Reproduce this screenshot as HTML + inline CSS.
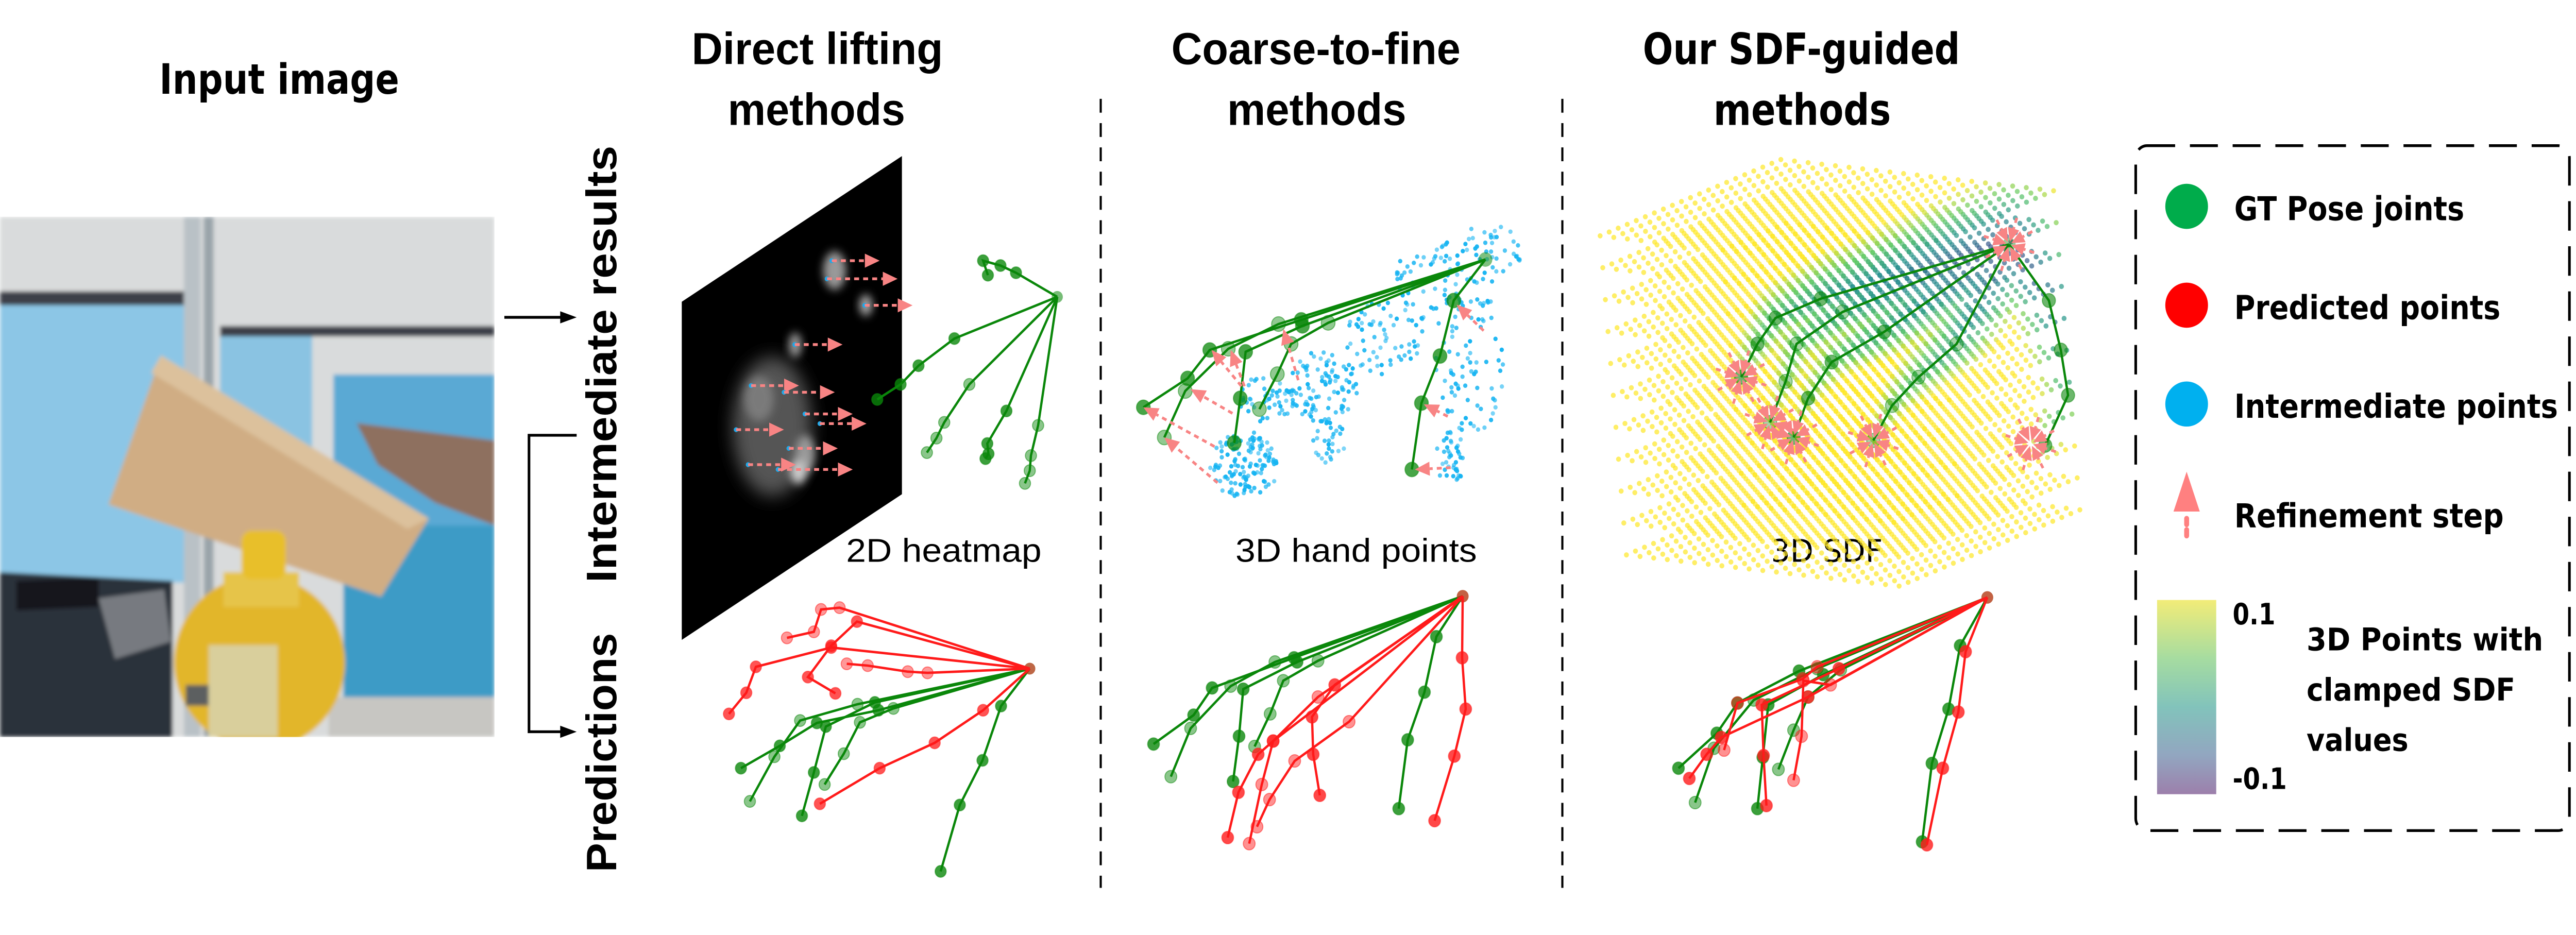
<!DOCTYPE html>
<html><head><meta charset="utf-8"><title>Hand pose methods comparison</title>
<style>html,body{margin:0;padding:0;background:#fff;overflow:hidden;}svg{display:block;width:100vw;height:100vh;}</style></head>
<body>
<svg id="fig" xmlns="http://www.w3.org/2000/svg" viewBox="0 0 1568 539.2" preserveAspectRatio="none">
<defs>
 <filter id="blur1" x="-20%" y="-20%" width="140%" height="140%"><feGaussianBlur stdDeviation="1.2"/></filter>
 <filter id="blur4" x="-50%" y="-50%" width="200%" height="200%"><feGaussianBlur stdDeviation="5"/></filter>
 <filter id="blur2" x="-50%" y="-50%" width="200%" height="200%"><feGaussianBlur stdDeviation="2.5"/></filter>
 <clipPath id="photoClip"><rect x="0" y="125" width="301" height="300"/></clipPath>
 <clipPath id="hmClip"><polygon points="415,174 549,90 549,285 415,369"/></clipPath>
 <linearGradient id="cbar" x1="0" y1="0" x2="0" y2="1">
  <stop offset="0" stop-color="#f2ec78"/><stop offset="0.3" stop-color="#a6dca0"/>
  <stop offset="0.55" stop-color="#82c3bb"/><stop offset="0.8" stop-color="#92a6c0"/>
  <stop offset="1" stop-color="#9c7fab"/></linearGradient>
</defs>

<g fill="#000">
 <text x="97" y="54" font-family="DejaVu Sans, sans-serif" font-weight="bold" font-size="24" textLength="146" lengthAdjust="spacingAndGlyphs">Input image</text>
 <text x="421" y="37" font-family="Liberation Sans, sans-serif" font-weight="bold" font-size="26" textLength="153" lengthAdjust="spacingAndGlyphs">Direct lifting</text>
 <text x="443" y="72" font-family="Liberation Sans, sans-serif" font-weight="bold" font-size="26" textLength="108" lengthAdjust="spacingAndGlyphs">methods</text>
 <text x="713" y="37" font-family="Liberation Sans, sans-serif" font-weight="bold" font-size="26" textLength="176" lengthAdjust="spacingAndGlyphs">Coarse-to-fine</text>
 <text x="747" y="72" font-family="Liberation Sans, sans-serif" font-weight="bold" font-size="26" textLength="109" lengthAdjust="spacingAndGlyphs">methods</text>
 <text x="1000" y="37" font-family="DejaVu Sans, sans-serif" font-weight="bold" font-size="25" textLength="193" lengthAdjust="spacingAndGlyphs">Our SDF-guided</text>
 <text x="1043" y="72" font-family="DejaVu Sans, sans-serif" font-weight="bold" font-size="25" textLength="108" lengthAdjust="spacingAndGlyphs">methods</text>
 <text transform="translate(375,336) rotate(-90)" font-family="Liberation Sans, sans-serif" font-weight="bold" font-size="26" textLength="252" lengthAdjust="spacingAndGlyphs">Intermediate results</text>
 <text transform="translate(375,503) rotate(-90)" font-family="Liberation Sans, sans-serif" font-weight="bold" font-size="26" textLength="138" lengthAdjust="spacingAndGlyphs">Predictions</text>
 <text x="515" y="324" font-family="Liberation Sans, sans-serif" font-size="19" textLength="119" lengthAdjust="spacingAndGlyphs">2D heatmap</text>
 <text x="752" y="324" font-family="Liberation Sans, sans-serif" font-size="19" textLength="147" lengthAdjust="spacingAndGlyphs">3D hand points</text>
 <text x="1078" y="324" font-family="DejaVu Sans, sans-serif" font-size="18" textLength="68" lengthAdjust="spacingAndGlyphs">3D SDF</text>
</g>

<g clip-path="url(#photoClip)" filter="url(#blur1)">
 <rect x="0" y="125" width="301" height="300" fill="#d9dbdc"/>
 <rect x="0" y="176" width="112" height="160" fill="#8cc6e6"/>
 <rect x="0" y="168" width="112" height="8" fill="#3d4148"/>
 <rect x="134" y="192" width="56" height="110" fill="#8ac3e2"/>
 <rect x="203" y="216" width="98" height="110" fill="#5aa9d4"/>
 <rect x="134" y="188" width="167" height="6" fill="#3d4148"/>
 <rect x="112" y="125" width="10" height="300" fill="#b9c1c6"/>
 <rect x="124" y="125" width="6" height="300" fill="#9aa4aa"/>
 <rect x="209" y="303" width="92" height="100" fill="#3e9bc6"/>
 <rect x="200" y="402" width="101" height="23" fill="#c7c6c2"/>
 <polygon points="0,330 105,335 105,425 0,425" fill="#2b303a"/>
 <polygon points="10,335 60,333 60,350 10,352" fill="#15181d"/>
 <polygon points="60,345 100,340 104,370 70,380" fill="#777a80"/>
 <polygon points="98,205 261,299 232,344 66,291" fill="#d0ad84"/>
 <polygon points="98,205 261,299 248,305 92,215" fill="#dcc19c"/>
 <polygon points="217,244 301,254 301,303 265,290 230,268" fill="#8e705f"/>
 <ellipse cx="158" cy="382" rx="52" ry="50" fill="#e2b62c"/>
 <rect x="136" y="330" width="46" height="20" fill="#e6c44a"/>
 <rect x="147" y="306" width="27" height="28" rx="6" fill="#e8bf2a"/>
 <rect x="127" y="372" width="42" height="53" fill="#d9cf9c"/>
 <rect x="113" y="395" width="14" height="12" fill="#5b5f60"/>
</g>

<g stroke="#000" stroke-width="1.6" fill="none">
 <line x1="307" y1="183" x2="344" y2="183"/>
 <polyline points="351,251 322,251 322,422 344,422"/>
</g>
<polygon points="351,183 341,179.5 341,186.5" fill="#000"/>
<polygon points="351,422 341,418.5 341,425.5" fill="#000"/>

<line x1="670" y1="57" x2="670" y2="512" stroke="#000" stroke-width="1.3" stroke-dasharray="8,6"/>
<line x1="951" y1="57" x2="951" y2="512" stroke="#000" stroke-width="1.3" stroke-dasharray="8,6"/>

<g>
 <polygon points="415,174 549,90 549,285 415,369" fill="#000"/>
 <g clip-path="url(#hmClip)">
  <ellipse cx="470" cy="246" rx="24" ry="40" fill="#555" filter="url(#blur4)"/>
  <ellipse cx="462" cy="230" rx="9" ry="13" fill="#7a7a7a" filter="url(#blur2)"/>
  <ellipse cx="490" cy="262" rx="6" ry="11" fill="#999" filter="url(#blur2)"/>
  <ellipse cx="486" cy="272" rx="5" ry="7" fill="#ccc" filter="url(#blur2)"/>
  <ellipse cx="508" cy="156" rx="7" ry="11" fill="#999" filter="url(#blur2)"/>
  <ellipse cx="527" cy="176" rx="4" ry="6" fill="#aaa" filter="url(#blur2)"/>
  <ellipse cx="484" cy="199" rx="4" ry="7" fill="#999" filter="url(#blur2)"/>
 </g>
</g>
<g id="marks"></g>

<g>
 <rect x="1300" y="84" width="264" height="395" rx="7" fill="none" stroke="#000" stroke-width="1.6" stroke-dasharray="17,9"/>
 <circle cx="1331" cy="119" r="13" fill="#00ac4b"/>
 <text x="1360" y="127" font-family="DejaVu Sans, sans-serif" font-weight="bold" font-size="19" textLength="140" lengthAdjust="spacingAndGlyphs">GT Pose joints</text>
 <circle cx="1331" cy="176" r="13" fill="#ff0000"/>
 <text x="1360" y="184" font-family="DejaVu Sans, sans-serif" font-weight="bold" font-size="19" textLength="162" lengthAdjust="spacingAndGlyphs">Predicted points</text>
 <circle cx="1331" cy="233" r="13" fill="#00b0ef"/>
 <text x="1360" y="241" font-family="DejaVu Sans, sans-serif" font-weight="bold" font-size="19" textLength="197" lengthAdjust="spacingAndGlyphs">Intermediate points</text>
 <polygon points="1331,272 1323,295 1339,295" fill="#ff8080"/>
 <line x1="1331" y1="299" x2="1331" y2="311" stroke="#ff8080" stroke-width="3" stroke-dasharray="3.5,3" stroke-linecap="round"/>
 <text x="1360" y="304" font-family="DejaVu Sans, sans-serif" font-weight="bold" font-size="19" textLength="164" lengthAdjust="spacingAndGlyphs">Refinement step</text>
 <rect x="1313" y="346" width="36" height="112" fill="url(#cbar)"/>
 <text x="1359" y="360" font-family="DejaVu Sans, sans-serif" font-weight="bold" font-size="17" textLength="26" lengthAdjust="spacingAndGlyphs">0.1</text>
 <text x="1359" y="455" font-family="DejaVu Sans, sans-serif" font-weight="bold" font-size="17" textLength="33" lengthAdjust="spacingAndGlyphs">-0.1</text>
 <text x="1404" y="375" font-family="DejaVu Sans, sans-serif" font-weight="bold" font-size="18" textLength="144" lengthAdjust="spacingAndGlyphs">3D Points with</text>
 <text x="1404" y="404" font-family="DejaVu Sans, sans-serif" font-weight="bold" font-size="18" textLength="127" lengthAdjust="spacingAndGlyphs">clamped SDF</text>
 <text x="1404" y="433" font-family="DejaVu Sans, sans-serif" font-weight="bold" font-size="18" textLength="62" lengthAdjust="spacingAndGlyphs">values</text>
</g>
</svg>

<script>
// ---------- data (in panel-local reference coordinates) ----------
const directGTRoot = [707,492];
const directGTFingers = [
 [[535,561],[475,606],[445,637],[406,662]],
 [[560,637],[518,700],[505,726],[489,750]],
 [[622,681],[590,735],[592,752],[587,760]],
 [[675,705],[663,755],[661,780],[653,801]],
 [[638,452],[612,440],[583,432],[591,456]]
];
const directPredRoot = [661,1108];
const directPredGT = [
 [[613,1170],[582,1260],[544,1334],[512,1444]],
 [[433,1174],[377,1197],[350,1249],[318,1300]],
 [[402,1164],[320,1204],[300,1280],[280,1352]],
 [[373,1167],[277,1194],[234,1254],[193,1328]],
 [[408,1177],[305,1198],[243,1236],[178,1273]]
];
const directPredRed = [
 [[583,1177],[502,1231],[410,1273],[310,1332]],
 [[490,1115],[457,1113],[390,1103],[355,1100]],
 [[372,1030],[329,1070],[290,1122],[336,1149]],
 [[343,1007],[312,1010],[300,1047],[255,1057]],
 [[329,1073],[203,1105],[187,1148],[158,1183]]
];
const heatArrows = [[330,432,410,432],[322,462,440,462],[385,506,465,506],[268,571,348,571],[195,639,275,639],[250,650,335,650],[285,686,365,686],[310,702,388,702],[170,712,250,712],[258,743,340,743],[190,770,270,770],[240,778,365,778]];

const coarseGTRoot = [1423,430];
const coarseGTFingers = [
 [[1370,498],[1347,590],[1316,668],[1300,778]],
 [[1160,535],[1098,570],[1075,620],[1045,678]],
 [[1117,540],[1022,583],[1013,660],[1003,734]],
 [[1077,537],[993,578],[921,648],[886,725]],
 [[1115,530],[962,580],[925,627],[851,675]]
];
const cloudClusters = [[1020,770,60,55,130],[1150,640,60,60,90],[1160,730,30,40,30],[1250,560,70,60,60],[1330,470,60,70,60],[1420,420,70,50,50],[1400,600,60,120,80],[1365,760,25,45,40],[1060,660,50,40,50]];
const coarseArrows = [[975,800,886,725],[970,740,851,675],[1000,685,930,645],[1015,640,965,580],[1020,640,997,580],[1110,630,1085,545],[1420,548,1375,505],[1360,690,1320,670],[1365,775,1305,778]];
const coarsePredRoot = [1385,988];
const coarsePredGT = [
 [[1341,1055],[1321,1147],[1293,1226],[1278,1340]],
 [[1143,1095],[1085,1128],[1063,1183],[1037,1237]],
 [[1108,1097],[1018,1142],[1011,1220],[1001,1295]],
 [[1071,1097],[997,1137],[930,1207],[897,1287]],
 [[1103,1090],[966,1140],[935,1185],[868,1233]]
];
const coarsePredRed = [
 [[1384,1090],[1390,1175],[1371,1253],[1338,1360]],
 [[1195,1196],[1104,1261],[1062,1325],[1041,1370]],
 [[1171,1135],[1133,1188],[1135,1250],[1146,1318]],
 [[1143,1155],[1068,1228],[1049,1300],[1028,1398]],
 [[1068,1228],[1043,1250],[1010,1313],[992,1388]]
];

const sdfGTRoot = [1235,405];
const sdfGTFingers = [
 [[1345,498],[1378,580],[1398,655],[1335,738]],
 [[1090,570],[985,625],[912,672],[860,730]],
 [[890,550],[745,600],[680,660],[640,725]],
 [[775,517],[648,570],[618,632],[575,700]],
 [[715,495],[590,527],[540,570],[495,625]]
];
const sdfStars = [[1235,405],[495,625],[575,700],[640,725],[860,730],[1295,735]];
const sdfPredRoot = [1175,990];
const sdfPredGT = [
 [[1100,1070],[1068,1175],[1022,1265],[995,1395]],
 [[770,1110],[680,1155],[640,1210],[598,1275]],
 [[722,1118],[570,1168],[555,1255],[540,1340]],
 [[705,1108],[530,1160],[420,1240],[368,1330]],
 [[655,1112],[485,1165],[428,1215],[322,1273]]
];
const sdfPredRed = [
 [[1115,1080],[1095,1180],[1052,1273],[1008,1400]],
 [[742,1135],[667,1128],[662,1220],[640,1293]],
 [[765,1108],[552,1168],[557,1252],[565,1335]],
 [[705,1105],[665,1125],[485,1165],[448,1243]],
 [[680,1155],[440,1222],[400,1250],[352,1290]]
];
const sdfGridN = 20;

// ---------- axis functions ----------
const ax2 = x => 386.2 + x*0.364, ay2 = y => y*0.348;
const ax3 = x => 950.7 + x*0.2204, ay3 = y => y*0.348;

const NS = 'http://www.w3.org/2000/svg';
const marks = document.getElementById('marks');
function mk(tag, attrs, parent){
 const e = document.createElementNS(NS, tag);
 for (const k in attrs) e.setAttribute(k, attrs[k]);
 (parent||marks).appendChild(e);
 return e;
}
function group(name){
 const g = mk('g', {});
 
 
 return g;
}

function drawHand(name, root, fingers, color, fx, fy, r, op){
 const g = group(name);
 fingers.forEach((f, i) => {
  const pts = [root].concat(f);
  const l = mk('polyline', {points: pts.map(p => fx(p[0])+','+fy(p[1])).join(' '), fill:'none', stroke:color, 'stroke-width':1.4}, g);
  
  
 });
 fingers.forEach((f, i) => {
  f.forEach((p, j) => {
   const c = mk('circle', {cx:fx(p[0]), cy:fy(p[1]), r:r, fill:color, 'fill-opacity': (i%2? op*0.6 : op), stroke:color, 'stroke-opacity':0.5, 'stroke-width':0.6}, g);
   
   
  });
 });
 const rc = mk('circle', {cx:fx(root[0]), cy:fy(root[1]), r:r, fill:color, 'fill-opacity':op*0.7}, g);
 
 
}

function arrow(g, x1, y1, x2, y2, head){
 const dx = x2-x1, dy = y2-y1, L = Math.hypot(dx,dy), ux = dx/L, uy = dy/L;
 const bx = x2-ux*head, by = y2-uy*head;
 const l = mk('line', {x1:x1, y1:y1, x2:bx, y2:by, stroke:'#f88484', 'stroke-width':1.6, 'stroke-dasharray':'3,2.5'}, g);
 
 
 const w = head*0.45;
 const p = mk('polygon', {points: x2+','+y2+' '+(bx-uy*w)+','+(by+ux*w)+' '+(bx+uy*w)+','+(by-ux*w), fill:'#f88484'}, g);
 
 
}

// ---------- SDF grid ----------
(function(){
 const g = group('sdf-grid');
 const O = [974,136], U = [110,-44], V = [166,18], W = [16,184];
 const segs = [];
 sdfGTFingers.forEach(f => { const pts=[sdfGTRoot].concat(f); for(let i=0;i<pts.length-1;i++) segs.push([ax3(pts[i][0]),ay3(pts[i][1]),ax3(pts[i+1][0]),ay3(pts[i+1][1])]); });
 function dist(px,py){ let m=1e9; segs.forEach(s=>{ const dx=s[2]-s[0], dy=s[3]-s[1]; let t=((px-s[0])*dx+(py-s[1])*dy)/(dx*dx+dy*dy); t=Math.max(0,Math.min(1,t)); const d=Math.hypot(px-s[0]-t*dx, py-s[1]-t*dy); if(d<m)m=d;}); return m; }
 const vir = [[68,1,84],[59,82,139],[33,145,140],[94,201,98],[253,231,37]];
 function col(t){ t=Math.max(0,Math.min(1,t))*4; const i=Math.min(3,Math.floor(t)), f=t-i; const a=vir[i], b=vir[i+1]; return 'rgb('+[0,1,2].map(k=>Math.round(a[k]+(b[k]-a[k])*f)).join(',')+')'; }
 const n = sdfGridN;
 for (let c=0;c<=n;c+=2) for (let a=0;a<=n;a++) for (let b=0;b<=n;b++){
  const A=a/n, B=b/n, C=c/n;
  const x = O[0]+A*U[0]+B*V[0]+C*W[0], y = O[1]+A*U[1]+B*V[1]+C*W[1];
  const d = dist(x,y)*1.3 + C*50 + (1-A)*18 + (1-B)*10;
  const e = mk('circle', {cx:x.toFixed(1), cy:y.toFixed(1), r:1.5, fill:col(d/55), 'fill-opacity':0.7}, g);
  
  
 }
})();

// ---------- heatmap arrows ----------
(function(){
 const g = group('heatmap-arrows');
 heatArrows.forEach(a => {
  const d = mk('circle', {cx:ax2(a[0]), cy:ay2(a[1]), r:1.4, fill:'#1fa8e8'}, g);
  
  
  arrow(g, ax2(a[0]), ay2(a[1]), ax2(a[2]), ay2(a[3]), 9);
 });
})();

// ---------- point cloud ----------
(function(){
 const g = group('hand-point-cloud');
 let s = 12345;
 const rnd = () => { s = (s*1103515245 + 12345) % 2147483648; return s/2147483648; };
 cloudClusters.forEach(cl => {
  for (let i=0;i<cl[4];i++){
   const ang = rnd()*Math.PI*2, rr = Math.sqrt(rnd());
   const x = cl[0] + Math.cos(ang)*rr*cl[2], y = cl[1] + Math.sin(ang)*rr*cl[3];
   const e = mk('circle', {cx:ax2(x).toFixed(1), cy:ay2(y).toFixed(1), r:1.3, fill:'#16b4f2', 'fill-opacity':0.55+0.45*rnd()}, g);
   
   
  }
 });
})();

drawHand('direct-gt-hand', directGTRoot, directGTFingers, '#0a870a', ax2, ay2, 3.4, 0.8);
drawHand('direct-pred-gt-hand', directPredRoot, directPredGT, '#0a870a', ax2, ay2, 3.4, 0.8);
drawHand('direct-pred-hand', directPredRoot, directPredRed, '#ff1a1a', ax2, ay2, 3.4, 0.75);
drawHand('coarse-gt-hand', coarseGTRoot, coarseGTFingers, '#0a870a', ax2, ay2, 4.2, 0.75);
(function(){ const g = group('coarse-arrows'); coarseArrows.forEach(a => arrow(g, ax2(a[0]), ay2(a[1]), ax2(a[2]), ay2(a[3]), 9)); })();
drawHand('coarse-pred-gt-hand', coarsePredRoot, coarsePredGT, '#0a870a', ax2, ay2, 3.6, 0.8);
drawHand('coarse-pred-hand', coarsePredRoot, coarsePredRed, '#ff1a1a', ax2, ay2, 3.6, 0.8);
drawHand('sdf-gt-hand', sdfGTRoot, sdfGTFingers, '#0a870a', ax3, ay3, 4.0, 0.6);
(function(){
 const g = group('sdf-refinement-stars');
 sdfStars.forEach(st => {
  const cx = ax3(st[0]), cy = ay3(st[1]);
  for (let k=0;k<8;k++){
   const an = k*Math.PI/4 + 0.3;
   arrow(g, cx+Math.cos(an)*16, cy+Math.sin(an)*16, cx+Math.cos(an)*1.5, cy+Math.sin(an)*1.5, 8);
  }
 });
})();
drawHand('sdf-pred-gt-hand', sdfPredRoot, sdfPredGT, '#0a870a', ax3, ay3, 3.6, 0.8);
drawHand('sdf-pred-hand', sdfPredRoot, sdfPredRed, '#ff1a1a', ax3, ay3, 3.6, 0.8);
</script>
</body></html>
